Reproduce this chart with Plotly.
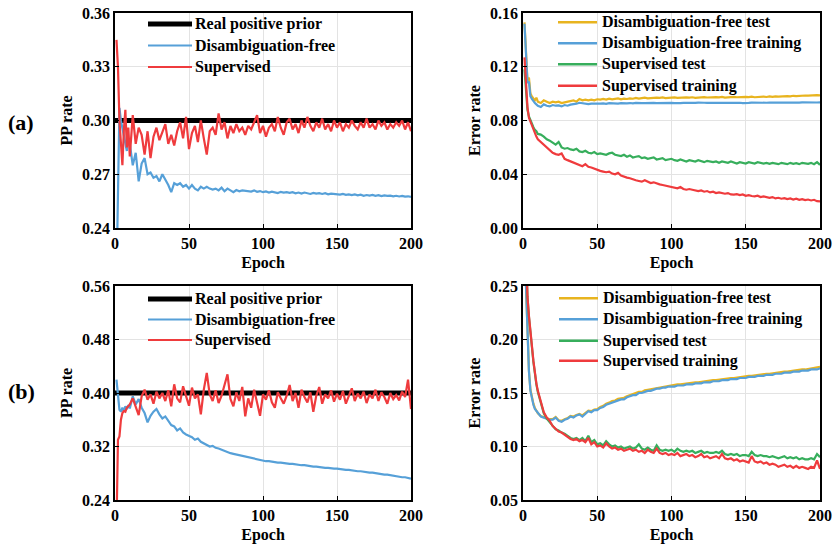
import plotly.graph_objects as go

# ---------------- data ----------------
EPOCHS = list(range(1, 11)) + list(range(12, 201, 2))

PRIOR_A = 0.30
PRIOR_B = 0.40

# (a) PP rate
DF_PP_A = [0.210, 0.270, 0.307, 0.300, 0.296, 0.293, 0.289, 0.283, 0.290, 0.287,
           0.275, 0.282, 0.266, 0.276, 0.279, 0.270, 0.271, 0.268, 0.269, 0.266,
           0.270, 0.267, 0.264, 0.260, 0.265, 0.264, 0.265, 0.263, 0.264, 0.262,
           0.264, 0.262, 0.261, 0.263, 0.262, 0.263, 0.262, 0.2615, 0.262, 0.261,
           0.2625, 0.2605, 0.262, 0.261, 0.260, 0.2612, 0.2605, 0.261, 0.2608, 0.2605,
           0.2603, 0.2610, 0.2602, 0.2606, 0.2600, 0.2604, 0.2598, 0.2603, 0.2600, 0.2595,
           0.2602, 0.2598, 0.2600, 0.2596, 0.2600, 0.2594, 0.2598, 0.2592, 0.2598, 0.2595,
           0.2590, 0.2596, 0.2592, 0.2594, 0.2590, 0.2594, 0.2588, 0.2592, 0.2589, 0.2590,
           0.2586, 0.2590, 0.2585, 0.2588, 0.2584, 0.2587, 0.2582, 0.2586, 0.2580, 0.2584,
           0.2581, 0.2585, 0.2580, 0.2583, 0.2578, 0.2582, 0.2579, 0.2581, 0.2577, 0.2580,
           0.2576, 0.2579, 0.2575, 0.2577, 0.2574]
SUP_PP_A = [0.345, 0.330, 0.300, 0.290, 0.275, 0.295, 0.306, 0.285, 0.296, 0.280,
            0.303, 0.287, 0.296, 0.292, 0.281, 0.294, 0.279, 0.291, 0.296, 0.289,
            0.293, 0.298, 0.287, 0.292, 0.286, 0.294, 0.299, 0.290, 0.302, 0.284,
            0.293, 0.297, 0.288, 0.300, 0.290, 0.281, 0.294, 0.296, 0.292, 0.304,
            0.295, 0.299, 0.290, 0.297, 0.293, 0.298, 0.294, 0.296, 0.292, 0.297,
            0.295, 0.299, 0.303, 0.293, 0.297, 0.291, 0.296, 0.298, 0.294, 0.302,
            0.296, 0.292, 0.299, 0.301, 0.295, 0.298, 0.293, 0.300, 0.296, 0.302,
            0.297, 0.294, 0.299, 0.296, 0.301, 0.295, 0.298, 0.294, 0.300, 0.296,
            0.299, 0.294, 0.298, 0.296, 0.300, 0.297, 0.295, 0.299, 0.296, 0.301,
            0.296, 0.298, 0.295, 0.300, 0.297, 0.299, 0.295, 0.298, 0.296, 0.299,
            0.297, 0.300, 0.295, 0.299, 0.294]

# (a) error rates
DF_TEST_A = [0.153, 0.130, 0.110, 0.112, 0.100, 0.098, 0.096, 0.095, 0.097, 0.094,
             0.0930, 0.0950, 0.0940, 0.0930, 0.0940, 0.0935, 0.0940, 0.0930, 0.0935, 0.0940,
             0.0945, 0.0950, 0.0940, 0.0960, 0.0950, 0.0955, 0.0950, 0.0955, 0.0950, 0.0958,
             0.0955, 0.0960, 0.0955, 0.0962, 0.0958, 0.0960, 0.0965, 0.0958, 0.0962, 0.0960,
             0.0965, 0.0962, 0.0968, 0.0963, 0.0966, 0.0970, 0.0965, 0.0968, 0.0966, 0.0970,
             0.0968, 0.0972, 0.0967, 0.0970, 0.0968, 0.0972, 0.0969, 0.0971, 0.0968, 0.0972,
             0.0970, 0.0973, 0.0969, 0.0972, 0.0970, 0.0974, 0.0971, 0.0973, 0.0970, 0.0974,
             0.0972, 0.0975, 0.0971, 0.0974, 0.0972, 0.0976, 0.0973, 0.0975, 0.0972, 0.0976,
             0.0974, 0.0977, 0.0973, 0.0976, 0.0975, 0.0978, 0.0975, 0.0979, 0.0976, 0.0980,
             0.0978, 0.0981, 0.0979, 0.0982, 0.0980, 0.0984, 0.0982, 0.0985, 0.0983, 0.0986,
             0.0985, 0.0988, 0.0986, 0.0989, 0.0987]
DF_TRAIN_A = [0.152, 0.128, 0.108, 0.109, 0.098, 0.096, 0.094, 0.093, 0.092, 0.091,
              0.0900, 0.0920, 0.0910, 0.0905, 0.0915, 0.0910, 0.0912, 0.0905, 0.0915, 0.0910,
              0.0918, 0.0920, 0.0925, 0.0932, 0.0928, 0.0925, 0.0922, 0.0926, 0.0924, 0.0927,
              0.0925, 0.0928, 0.0924, 0.0929, 0.0926, 0.0928, 0.0925, 0.0929, 0.0927, 0.0928,
              0.0930, 0.0927, 0.0931, 0.0928, 0.0930, 0.0929, 0.0931, 0.0928, 0.0931, 0.0930,
              0.0931, 0.0929, 0.0932, 0.0930, 0.0931, 0.0929, 0.0932, 0.0930, 0.0931, 0.0930,
              0.0932, 0.0930, 0.0931, 0.0933, 0.0930, 0.0932, 0.0931, 0.0933, 0.0930, 0.0932,
              0.0931, 0.0933, 0.0930, 0.0932, 0.0931, 0.0933, 0.0931, 0.0932, 0.0930, 0.0933,
              0.0931, 0.0933, 0.0932, 0.0934, 0.0931, 0.0933, 0.0932, 0.0934, 0.0932, 0.0933,
              0.0934, 0.0932, 0.0935, 0.0933, 0.0934, 0.0932, 0.0935, 0.0933, 0.0935, 0.0934,
              0.0935, 0.0933, 0.0936, 0.0934, 0.0935]
SUP_TEST_A = [0.118, 0.100, 0.088, 0.083, 0.080, 0.077, 0.075, 0.073, 0.072, 0.070,
              0.0695, 0.0680, 0.0660, 0.0650, 0.0635, 0.0620, 0.0640, 0.0600, 0.0590, 0.0595,
              0.0585, 0.0580, 0.0590, 0.0570, 0.0565, 0.0575, 0.0560, 0.0555, 0.0565, 0.0550,
              0.0555, 0.0550, 0.0545, 0.0555, 0.0560, 0.0545, 0.0540, 0.0535, 0.0545, 0.0530,
              0.0540, 0.0525, 0.0530, 0.0535, 0.0520, 0.0525, 0.0515, 0.0520, 0.0525, 0.0510,
              0.0515, 0.0520, 0.0505, 0.0510, 0.0515, 0.0505, 0.0500, 0.0510, 0.0505, 0.0495,
              0.0505, 0.0500, 0.0495, 0.0505, 0.0500, 0.0490, 0.0500, 0.0495, 0.0490, 0.0495,
              0.0485, 0.0495, 0.0490, 0.0485, 0.0495, 0.0490, 0.0480, 0.0490, 0.0485, 0.0480,
              0.0490, 0.0485, 0.0480, 0.0490, 0.0485, 0.0480, 0.0485, 0.0478, 0.0485, 0.0480,
              0.0475, 0.0485, 0.0480, 0.0475, 0.0485, 0.0478, 0.0482, 0.0475, 0.0485, 0.0480,
              0.0478, 0.0485, 0.0475, 0.0490, 0.0470]
SUP_TRAIN_A = [0.127, 0.105, 0.090, 0.082, 0.079, 0.077, 0.074, 0.071, 0.068, 0.066,
               0.0640, 0.0620, 0.0600, 0.0575, 0.0560, 0.0550, 0.0545, 0.0555, 0.0515, 0.0505,
               0.0495, 0.0490, 0.0480, 0.0470, 0.0460, 0.0475, 0.0455, 0.0450, 0.0440, 0.0430,
               0.0425, 0.0420, 0.0415, 0.0420, 0.0405, 0.0400, 0.0410, 0.0390, 0.0380, 0.0375,
               0.0370, 0.0360, 0.0355, 0.0350, 0.0345, 0.0355, 0.0345, 0.0335, 0.0340, 0.0330,
               0.0325, 0.0320, 0.0315, 0.0310, 0.0305, 0.0300, 0.0295, 0.0305, 0.0290, 0.0285,
               0.0290, 0.0285, 0.0280, 0.0275, 0.0280, 0.0270, 0.0275, 0.0265, 0.0270, 0.0260,
               0.0265, 0.0258, 0.0255, 0.0260, 0.0250, 0.0248, 0.0252, 0.0245, 0.0250, 0.0240,
               0.0245, 0.0238, 0.0235, 0.0240, 0.0230, 0.0235, 0.0228, 0.0225, 0.0230, 0.0220,
               0.0225, 0.0218, 0.0222, 0.0215, 0.0220, 0.0212, 0.0218, 0.0210, 0.0215, 0.0208,
               0.0212, 0.0205, 0.0210, 0.0200, 0.0198]

# (b) PP rate
DF_PP_B = [0.420, 0.395, 0.375, 0.372, 0.378, 0.373, 0.380, 0.376, 0.382, 0.377,
           0.395, 0.383, 0.391, 0.378, 0.370, 0.356, 0.366, 0.372, 0.376, 0.368,
           0.362, 0.365, 0.358, 0.352, 0.350, 0.344, 0.347, 0.341, 0.338, 0.336,
           0.334, 0.330, 0.332, 0.327, 0.325, 0.322, 0.320, 0.321, 0.318, 0.317,
           0.315, 0.313, 0.312, 0.310, 0.309, 0.308, 0.306, 0.306, 0.305, 0.304,
           0.302, 0.301, 0.300, 0.300, 0.299, 0.298, 0.298, 0.297, 0.297, 0.296,
           0.296, 0.295, 0.295, 0.294, 0.294, 0.293, 0.293, 0.292, 0.292, 0.291,
           0.291, 0.290, 0.290, 0.289, 0.289, 0.288, 0.288, 0.287, 0.287, 0.287,
           0.286, 0.286, 0.285, 0.285, 0.284, 0.284, 0.283, 0.283, 0.282, 0.282,
           0.281, 0.281, 0.280, 0.280, 0.279, 0.278, 0.278, 0.277, 0.276, 0.276,
           0.275, 0.274, 0.274, 0.273, 0.272]
SUP_PP_B = [0.200, 0.330, 0.335, 0.360, 0.370, 0.373, 0.372, 0.378, 0.380, 0.383,
            0.392, 0.378, 0.367, 0.395, 0.405, 0.390, 0.398, 0.384, 0.402, 0.392,
            0.400, 0.388, 0.404, 0.380, 0.413, 0.392, 0.386, 0.410, 0.395, 0.381,
            0.408, 0.392, 0.398, 0.368, 0.405, 0.430, 0.398, 0.388, 0.404, 0.385,
            0.396, 0.412, 0.428, 0.391, 0.380, 0.401, 0.388, 0.409, 0.365, 0.392,
            0.378, 0.405, 0.385, 0.366, 0.398, 0.390, 0.404, 0.386, 0.378, 0.401,
            0.392, 0.384, 0.396, 0.412, 0.388, 0.400, 0.378, 0.405, 0.394, 0.386,
            0.401, 0.372, 0.396, 0.409, 0.384, 0.398, 0.392, 0.404, 0.387, 0.399,
            0.390, 0.403, 0.384, 0.396, 0.407, 0.388, 0.399, 0.392, 0.402, 0.385,
            0.398, 0.392, 0.405, 0.388, 0.401, 0.394, 0.384, 0.400, 0.391, 0.397,
            0.389, 0.402, 0.394, 0.420, 0.376]

# (b) error rates
DF_TEST_B = [0.290, 0.246, 0.201, 0.171, 0.153, 0.145, 0.140, 0.136, 0.133, 0.131,
             0.1285, 0.1275, 0.1265, 0.1255, 0.1255, 0.1275, 0.1245, 0.1240, 0.1255, 0.1265,
             0.1285, 0.1280, 0.1295, 0.1305, 0.1290, 0.1315, 0.1335, 0.1330, 0.1345, 0.1350,
             0.1370, 0.1380, 0.1400, 0.1410, 0.1425, 0.1430, 0.1445, 0.1450, 0.1455, 0.1470,
             0.1480, 0.1490, 0.1495, 0.1510, 0.1510, 0.1525, 0.1530, 0.1535, 0.1540, 0.1550,
             0.1550, 0.1560, 0.1560, 0.1570, 0.1570, 0.1575, 0.1580, 0.1580, 0.1585, 0.1590,
             0.1590, 0.1595, 0.1600, 0.1600, 0.1605, 0.1610, 0.1610, 0.1615, 0.1620, 0.1620,
             0.1625, 0.1630, 0.1630, 0.1635, 0.1640, 0.1640, 0.1645, 0.1650, 0.1650, 0.1655,
             0.1660, 0.1660, 0.1665, 0.1670, 0.1670, 0.1675, 0.1680, 0.1680, 0.1685, 0.1690,
             0.1690, 0.1695, 0.1700, 0.1700, 0.1705, 0.1710, 0.1710, 0.1715, 0.1720, 0.1720,
             0.1725, 0.1730, 0.1730, 0.1735, 0.1745]
DF_TRAIN_B = [0.290, 0.245, 0.200, 0.170, 0.152, 0.144, 0.139, 0.135, 0.133, 0.131,
              0.1280, 0.1270, 0.1260, 0.1250, 0.1250, 0.1270, 0.1240, 0.1230, 0.1250, 0.1260,
              0.1280, 0.1270, 0.1290, 0.1300, 0.1280, 0.1310, 0.1330, 0.1320, 0.1340, 0.1340,
              0.1360, 0.1370, 0.1390, 0.1400, 0.1410, 0.1420, 0.1430, 0.1440, 0.1440, 0.1460,
              0.1470, 0.1480, 0.1480, 0.1500, 0.1500, 0.1510, 0.1520, 0.1520, 0.1530, 0.1540,
              0.1540, 0.1550, 0.1550, 0.1560, 0.1560, 0.1560, 0.1570, 0.1570, 0.1570, 0.1580,
              0.1580, 0.1580, 0.1590, 0.1590, 0.1590, 0.1600, 0.1600, 0.1600, 0.1610, 0.1610,
              0.1610, 0.1620, 0.1620, 0.1620, 0.1630, 0.1630, 0.1630, 0.1640, 0.1640, 0.1640,
              0.1650, 0.1650, 0.1650, 0.1660, 0.1660, 0.1660, 0.1670, 0.1670, 0.1670, 0.1680,
              0.1680, 0.1680, 0.1690, 0.1690, 0.1690, 0.1700, 0.1700, 0.1700, 0.1710, 0.1710,
              0.1710, 0.1720, 0.1720, 0.1720, 0.1730]
SUP_TEST_B = [0.330, 0.290, 0.240, 0.221, 0.204, 0.193, 0.179, 0.167, 0.158, 0.151,
              0.140, 0.131, 0.126, 0.123, 0.119, 0.116, 0.115, 0.113, 0.112, 0.110,
              0.108, 0.107, 0.108, 0.106, 0.108, 0.105, 0.110, 0.104, 0.106, 0.102,
              0.103, 0.101, 0.105, 0.102, 0.100, 0.101, 0.099, 0.100, 0.098, 0.099,
              0.100, 0.098, 0.099, 0.102, 0.098, 0.097, 0.099, 0.097, 0.096, 0.101,
              0.097, 0.096, 0.097, 0.096, 0.097, 0.095, 0.098, 0.096, 0.095, 0.096,
              0.095, 0.096, 0.094, 0.095, 0.096, 0.094, 0.095, 0.094, 0.094, 0.095,
              0.094, 0.096, 0.093, 0.092, 0.093, 0.092, 0.093, 0.091, 0.092, 0.092,
              0.091, 0.095, 0.092, 0.091, 0.092, 0.091, 0.091, 0.090, 0.091, 0.090,
              0.089, 0.090, 0.091, 0.089, 0.090, 0.089, 0.090, 0.088, 0.089, 0.088,
              0.088, 0.089, 0.088, 0.093, 0.090]
SUP_TRAIN_B = [0.330, 0.290, 0.240, 0.222, 0.205, 0.194, 0.180, 0.168, 0.159, 0.152,
               0.141, 0.132, 0.127, 0.124, 0.119, 0.116, 0.114, 0.113, 0.111, 0.109,
               0.107, 0.106, 0.107, 0.105, 0.106, 0.104, 0.108, 0.102, 0.104, 0.100,
               0.101, 0.099, 0.103, 0.100, 0.098, 0.099, 0.097, 0.098, 0.096, 0.097,
               0.098, 0.096, 0.097, 0.095, 0.096, 0.094, 0.097, 0.095, 0.094, 0.098,
               0.094, 0.093, 0.094, 0.092, 0.093, 0.092, 0.094, 0.091, 0.092, 0.093,
               0.091, 0.092, 0.090, 0.091, 0.093, 0.090, 0.091, 0.089, 0.090, 0.091,
               0.089, 0.093, 0.089, 0.088, 0.089, 0.087, 0.088, 0.086, 0.087, 0.086,
               0.085, 0.091, 0.086, 0.085, 0.086, 0.084, 0.085, 0.083, 0.084, 0.083,
               0.081, 0.082, 0.083, 0.081, 0.082, 0.080, 0.082, 0.080, 0.081, 0.080,
               0.079, 0.081, 0.080, 0.087, 0.079]

PP_TICKS_A = [0.24, 0.27, 0.30, 0.33, 0.36]
ERR_TICKS_A = [0.00, 0.04, 0.08, 0.12, 0.16]
PP_TICKS_B = [0.24, 0.32, 0.40, 0.48, 0.56]
ERR_TICKS_B = [0.05, 0.10, 0.15, 0.20, 0.25]
X_TICKS = [0, 50, 100, 150, 200]

PP_NAMES = ["Real positive prior", "Disambiguation-free", "Supervised"]
ERR_NAMES = ["Disambiguation-free test", "Disambiguation-free training",
             "Supervised test", "Supervised training"]

# ---------------- styling ----------------
FONT = "Liberation Serif"
BLUE = "#56A0D8"
RED = "#EF3B3D"
YELLOW = "#E8B41F"
GREEN = "#37AE5C"
W, H = 834, 546

PP_COLORS = ["black", BLUE, RED]
PP_WIDTHS = [5, 2.2, 2.2]
ERR_COLORS = [YELLOW, BLUE, GREEN, RED]


def px_dom_x(a, b):
    return [a / W, b / W]


def px_dom_y(top, bottom):
    return [1 - bottom / H, 1 - top / H]


fig = go.Figure()


def add(x, y, name, color, width, xa, ya):
    fig.add_trace(go.Scatter(x=x, y=y, mode="lines", name=name, showlegend=False,
                             line=dict(color=color, width=width),
                             xaxis=xa, yaxis=ya))


# panel (a) left
add([0, 200], [PRIOR_A, PRIOR_A], PP_NAMES[0], PP_COLORS[0], PP_WIDTHS[0], "x", "y")
add(EPOCHS, DF_PP_A, PP_NAMES[1], BLUE, 2.2, "x", "y")
add(EPOCHS, SUP_PP_A, PP_NAMES[2], RED, 2.2, "x", "y")
# panel (a) right
for ys, nm, c in zip([DF_TEST_A, DF_TRAIN_A, SUP_TEST_A, SUP_TRAIN_A], ERR_NAMES, ERR_COLORS):
    add(EPOCHS, ys, nm, c, 2.2, "x2", "y2")
# panel (b) left
add([0, 200], [PRIOR_B, PRIOR_B], PP_NAMES[0], PP_COLORS[0], PP_WIDTHS[0], "x3", "y3")
add(EPOCHS, DF_PP_B, PP_NAMES[1], BLUE, 2.2, "x3", "y3")
add(EPOCHS, SUP_PP_B, PP_NAMES[2], RED, 2.2, "x3", "y3")
# panel (b) right
for ys, nm, c in zip([DF_TEST_B, DF_TRAIN_B, SUP_TEST_B, SUP_TRAIN_B], ERR_NAMES, ERR_COLORS):
    add(EPOCHS, ys, nm, c, 2.2, "x4", "y4")

tick_font = dict(family=FONT, size=16, color="black", weight="bold")
title_font = dict(family=FONT, size=16, color="black", weight="bold")


def xaxis(dom, anchor):
    return dict(domain=dom, anchor=anchor, range=[0, 200], tickvals=X_TICKS,
                ticktext=[str(v) for v in X_TICKS], automargin=False,
                tickfont=tick_font, showgrid=True, gridcolor="#e3e3e3", gridwidth=1,
                showline=True, linecolor="black", linewidth=1.5, mirror=True,
                ticks="inside", ticklen=4, tickcolor="black", zeroline=False,
                title=dict(text="Epoch", font=title_font, standoff=6))


def yaxis(dom, anchor, rng, ticks, title):
    return dict(domain=dom, anchor=anchor, range=rng, tickvals=ticks,
                ticktext=[f"{v:.2f}" for v in ticks], automargin=False,
                tickfont=tick_font, showgrid=True, gridcolor="#e3e3e3", gridwidth=1,
                showline=True, linecolor="black", linewidth=1.5, mirror=True,
                ticks="inside", ticklen=4, tickcolor="black", zeroline=False,
                title=dict(text=title, font=title_font, standoff=5))


XL = px_dom_x(115, 411)
XR = px_dom_x(523, 820)
YT = px_dom_y(13, 228)
YB = px_dom_y(286, 500)

fig.update_layout(
    template="none",
    width=W, height=H, margin=dict(l=0, r=0, t=0, b=0, autoexpand=False),
    paper_bgcolor="white", plot_bgcolor="white", showlegend=False,
    font=dict(family=FONT, color="black"),
    xaxis=xaxis(XL, "y"), yaxis=yaxis(YT, "x", [0.24, 0.36], PP_TICKS_A, "PP rate"),
    xaxis2=xaxis(XR, "y2"), yaxis2=yaxis(YT, "x2", [0.0, 0.16], ERR_TICKS_A, "Error rate"),
    xaxis3=xaxis(XL, "y3"), yaxis3=yaxis(YB, "x3", [0.24, 0.56], PP_TICKS_B, "PP rate"),
    xaxis4=xaxis(XR, "y4"), yaxis4=yaxis(YB, "x4", [0.05, 0.25], ERR_TICKS_B, "Error rate"),
)

# hand-placed legends (key line + label), positions in pixels
shapes = []
leg_font = dict(family=FONT, size=16, color="black", weight="bold")


def legend(x0, x1, tx, rows, names, colors, widths):
    for ry, nm, c, w in zip(rows, names, colors, widths):
        shapes.append(dict(type="line", xref="paper", yref="paper",
                           x0=x0 / W, x1=x1 / W, y0=1 - ry / H, y1=1 - ry / H,
                           line=dict(color=c, width=w)))
        fig.add_annotation(text=nm, xref="paper", yref="paper", x=tx / W, y=1 - ry / H,
                           xanchor="left", yanchor="middle", showarrow=False,
                           font=leg_font)


legend(148, 192, 193, [24, 45.5, 67], PP_NAMES, PP_COLORS, PP_WIDTHS)
legend(558, 597, 600, [22.3, 43.3, 64.3, 85.7], ERR_NAMES, ERR_COLORS, [2.5] * 4)
legend(148, 192, 193, [299, 319.5, 340], PP_NAMES, PP_COLORS, PP_WIDTHS)
legend(559, 598, 601, [298.3, 319.3, 340.7, 360.7], ERR_NAMES, ERR_COLORS, [2.5] * 4)
fig.update_layout(shapes=shapes)

for txt, ypx in [("(a)", 123), ("(b)", 391)]:
    fig.add_annotation(text=txt, xref="paper", yref="paper",
                       x=21 / W, y=1 - ypx / H, xanchor="center", yanchor="middle",
                       showarrow=False,
                       font=dict(family=FONT, size=22, color="black", weight="bold"))

fig.write_html("out.html", config={"displayModeBar": False},
               post_script="document.body.style.margin='0';document.body.style.padding='0';")
